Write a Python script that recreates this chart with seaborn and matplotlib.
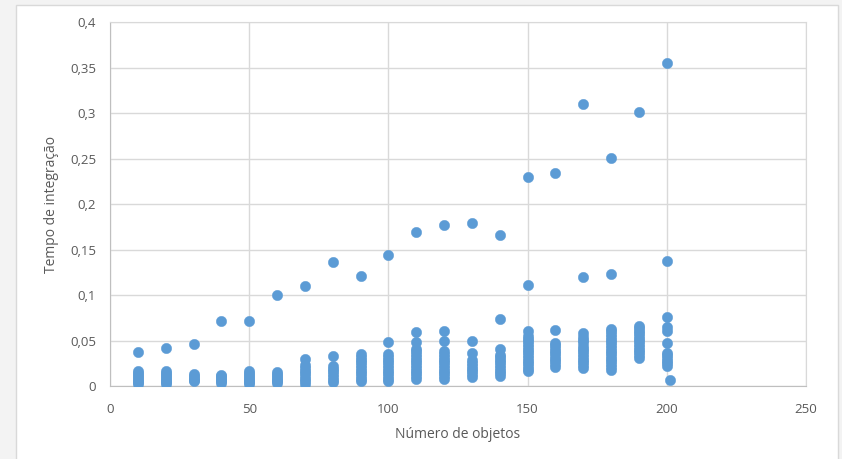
import matplotlib
matplotlib.use("Agg")
import matplotlib.pyplot as plt
import matplotlib.patches as mpatches
import matplotlib.ticker as mticker
import pandas as pd
import seaborn as sns

t010 = [0.002, 0.004, 0.006, 0.008, 0.010, 0.012, 0.014, 0.016, 0.037]
t020 = [0.002, 0.004, 0.006, 0.008, 0.010, 0.012, 0.014, 0.016, 0.042]
t030 = [0.005, 0.007, 0.009, 0.011, 0.013, 0.046]
t040 = [0.003, 0.005, 0.007, 0.009, 0.011, 0.012, 0.072]
t050 = [0.002, 0.004, 0.006, 0.008, 0.010, 0.012, 0.014, 0.016, 0.072]
t060 = [0.003, 0.005, 0.007, 0.009, 0.011, 0.013, 0.015, 0.100]
t070 = [0.002, 0.005, 0.008, 0.011, 0.014, 0.017, 0.020, 0.023, 0.030, 0.110]
t080 = [0.004, 0.007, 0.010, 0.013, 0.016, 0.019, 0.022, 0.033, 0.136]
t090 = [0.005, 0.008, 0.011, 0.014, 0.017, 0.020, 0.023, 0.026, 0.029, 0.032, 0.035, 0.121]
t100 = [0.005, 0.008, 0.011, 0.014, 0.017, 0.020, 0.023, 0.026, 0.029, 0.032, 0.035, 0.048, 0.144]
t110 = [0.008, 0.011, 0.014, 0.017, 0.020, 0.023, 0.026, 0.029, 0.032, 0.035, 0.038, 0.041, 0.048, 0.059, 0.169]
t120 = [0.008, 0.011, 0.014, 0.017, 0.020, 0.023, 0.026, 0.029, 0.032, 0.035, 0.038, 0.049, 0.061, 0.177]
t130 = [0.010, 0.013, 0.016, 0.019, 0.022, 0.025, 0.029, 0.036, 0.049, 0.179]
t140 = [0.011, 0.014, 0.017, 0.020, 0.023, 0.026, 0.029, 0.032, 0.034, 0.041, 0.074, 0.166]
t150 = [0.016, 0.019, 0.022, 0.025, 0.028, 0.031, 0.034, 0.037, 0.040, 0.043, 0.046, 0.049, 0.052, 0.055, 0.061, 0.111, 0.230]
t160 = [0.021, 0.024, 0.027, 0.030, 0.033, 0.036, 0.039, 0.042, 0.045, 0.047, 0.062, 0.234]
t170 = [0.020, 0.023, 0.026, 0.029, 0.032, 0.035, 0.038, 0.041, 0.044, 0.048, 0.051, 0.054, 0.058, 0.120, 0.310]
t180 = [0.018, 0.021, 0.024, 0.027, 0.030, 0.033, 0.036, 0.039, 0.042, 0.045, 0.048, 0.051, 0.054, 0.057, 0.060, 0.063, 0.123, 0.251]
t190 = [0.031, 0.034, 0.037, 0.040, 0.043, 0.046, 0.049, 0.052, 0.055, 0.058, 0.061, 0.064, 0.066, 0.302]
t200 = [0.022, 0.025, 0.028, 0.031, 0.034, 0.036, 0.047, 0.060, 0.065, 0.076, 0.138, 0.355]
t201 = [0.007]

colunas = {10: t010, 20: t020, 30: t030, 40: t040, 50: t050, 60: t060, 70: t070,
           80: t080, 90: t090, 100: t100, 110: t110, 120: t120, 130: t130,
           140: t140, 150: t150, 160: t160, 170: t170, 180: t180, 190: t190,
           200: t200, 201: t201}

rows = []
for n, tempos in colunas.items():
    for t in tempos:
        rows.append((n, t))
df = pd.DataFrame(rows, columns=["n", "tempo"])

plt.rcParams['font.family'] = ['Open Sans', 'DejaVu Sans']

fig = plt.figure(figsize=(8.42, 4.59), dpi=100, facecolor="#f3f3f3")
# area branca do gráfico com borda cinza
fig.patches.append(mpatches.Rectangle((16 / 842, -0.01), (838 - 16) / 842, 1 - 5 / 459 + 0.01,
                                      transform=fig.transFigure, facecolor="white",
                                      edgecolor="#d9d9d9", linewidth=1, zorder=-5))

ax = fig.add_axes([110 / 842, 1 - 386 / 459, (806 - 110) / 842, (386 - 22.5) / 459])
ax.set_facecolor("white")

sns.scatterplot(data=df, x="n", y="tempo", ax=ax, color="#5b9bd5", s=56,
                edgecolor="#5b9bd5", linewidth=0.3, zorder=3)

ax.set_xlim(0, 250)
ax.set_ylim(0, 0.4)
ax.set_xticks(range(0, 251, 50))
ax.set_yticks([i * 0.05 for i in range(9)])
ax.yaxis.set_major_formatter(mticker.FuncFormatter(lambda v, p: f"{v:.2f}".rstrip("0").rstrip(".").replace(".", ",")))

ax.grid(True, color="#d9d9d9", linewidth=1)
ax.set_axisbelow(True)
for side in ["top", "right"]:
    ax.spines[side].set_color("#d9d9d9")
for side in ["left", "bottom"]:
    ax.spines[side].set_color("#bfbfbf")
ax.tick_params(length=0, labelsize=9.5, labelcolor="#595959")
ax.tick_params(axis="x", pad=12)
ax.tick_params(axis="y", pad=10)

ax.set_xlabel("Número de objetos", fontsize=10, color="#595959", labelpad=8)
ax.set_ylabel("Tempo de integração", fontsize=10, color="#595959", labelpad=8)

fig.savefig("out.png", dpi=100, facecolor=fig.get_facecolor())
